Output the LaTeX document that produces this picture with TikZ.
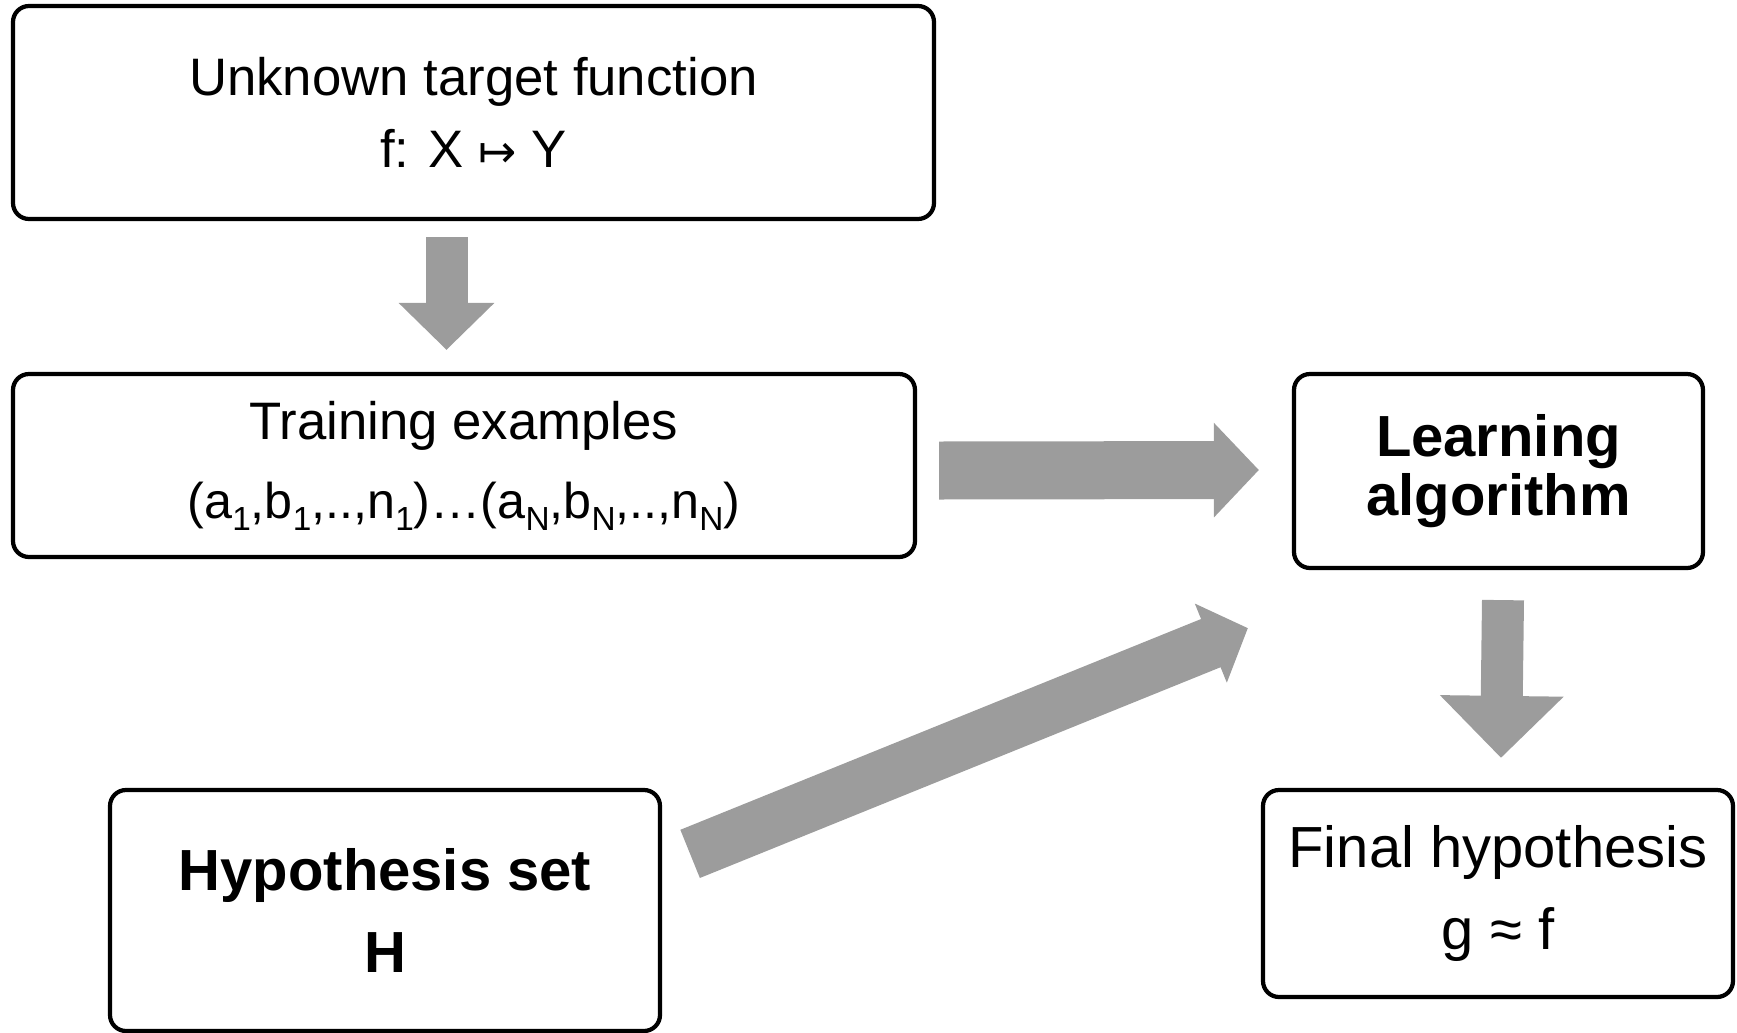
\documentclass[tikz,border=0pt]{standalone}
\usepackage{fontspec}
\setmainfont{Liberation Sans}
\newfontfamily\symfont{DejaVu Sans}
\usetikzlibrary{arrows.meta}
\definecolor{arrowgray}{RGB}{156,156,156}
\newcommand{\lowidx}[1]{\raisebox{-0.45ex}{\fontsize{9.5}{10}\selectfont #1}}

\begin{document}
\begin{tikzpicture}[
    box/.style={draw, line width=1.2pt, rounded corners=0.16cm, align=center, inner sep=0pt},
    flow/.style n args={3}{line width=#1, arrowgray, -{Triangle[width=#2,length=#3]}},
  ]
    \useasboundingbox (0,0) rectangle (17.37,-10.33);

    % Boxes
    \node[box, minimum width=9.21cm, minimum height=2.13cm, font=\fontsize{15}{20.5}\selectfont] (target) at (4.735,-1.125)
        {Unknown target function\\f: X {\symfont\fontsize{13}{13}\selectfont ↦} Y};
    \node[box, minimum width=9.02cm, minimum height=1.83cm, font=\fontsize{15}{22.5}\selectfont] (train) at (4.64,-4.655)
        {Training examples\\{\fontsize{14.3}{15}\selectfont(a\lowidx{1},b\lowidx{1},..,n\lowidx{1})…(a\lowidx{N},b\lowidx{N},..,n\lowidx{N})}};
    \node[box, minimum width=4.09cm, minimum height=1.94cm, font=\fontsize{16.5}{17}\selectfont\bfseries] (learn) at (14.985,-4.71)
        {Learning\\algorithm};
    \node[box, minimum width=5.50cm, minimum height=2.41cm, font=\fontsize{16.5}{23.3}\selectfont\bfseries] (hyp) at (3.85,-9.105)
        {Hypothesis set\\H};
    \node[box, minimum width=4.70cm, minimum height=2.07cm, font=\fontsize{16.5}{23.6}\selectfont] (final) at (14.98,-8.935)
        {Final hypothesis\\g ≈ f};

    % Block arrows
    \draw[flow={0.42cm}{0.93cm}{0.47cm}] ([xshift=-0.27cm,yshift=-0.16cm]target.south) -- ([xshift=-0.175cm,yshift=0.22cm]train.north);
    \draw[flow={0.58cm}{0.92cm}{0.45cm}] ([xshift=0.22cm,yshift=-0.05cm]train.east) -- ([xshift=-0.33cm,yshift=0.01cm]learn.west);
    \draw[flow={0.42cm}{1.2cm}{0.62cm}] ([xshift=0.045cm,yshift=-0.30cm]learn.south) -- ([xshift=0.03cm,yshift=0.30cm]final.north);
    \draw[flow={0.52cm}{0.83cm}{0.40cm}] ([xshift=0.28cm,yshift=-0.66cm]hyp.north east) -- ([xshift=-0.44cm,yshift=-0.58cm]learn.south west);
\end{tikzpicture}
\end{document}
